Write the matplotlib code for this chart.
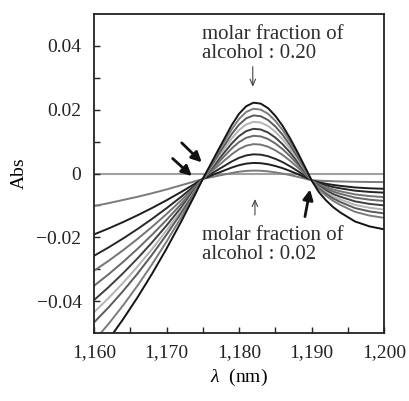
import matplotlib
matplotlib.use("Agg")
import matplotlib.pyplot as plt
from matplotlib.ticker import FixedLocator, FixedFormatter

plt.rcParams['font.family'] = ['Liberation Serif', 'DejaVu Serif']
plt.rcParams['mathtext.fontset'] = 'custom'
plt.rcParams['mathtext.rm'] = 'Liberation Serif'
plt.rcParams['mathtext.it'] = 'Liberation Serif:italic'

# wavelength grid (nm)
wavelength = [1160, 1162, 1164, 1166, 1168, 1170, 1172, 1174, 1175, 1176, 1177, 1178,
              1179, 1180, 1181, 1182, 1183, 1184, 1185, 1186, 1187, 1188, 1189, 1190,
              1191, 1192, 1193, 1194, 1196, 1198, 1200]

fractions = ["0.02", "0.04", "0.06", "0.08", "0.10", "0.12", "0.14", "0.16", "0.18", "0.20"]

abs_002 = [-0.0102, -0.0093, -0.0083, -0.0073, -0.0062, -0.0050, -0.0037, -0.0024, -0.0017,
           -0.00124, -0.00076, -0.0003, 0.00017, 0.00056, 0.00081, 0.00091, 0.00086, 0.00067,
           0.00036, -0.00002, -0.00048, -0.0010, -0.00154, -0.0021,
           -0.00224, -0.00235, -0.00243, -0.0025, -0.0026, -0.00266, -0.0027]
abs_004 = [-0.0191, -0.01724, -0.01524, -0.0131, -0.01082, -0.00839, -0.00582, -0.00311, -0.0017,
           -0.00082, 0.0001, 0.00098, 0.00186, 0.0026, 0.0031, 0.00331, 0.00323, 0.0029,
           0.00236, 0.00168, 0.00084, -0.0001, -0.00108, -0.0021,
           -0.00275, -0.00321, -0.00359, -0.00388, -0.00437, -0.00464, -0.0048]
abs_006 = [-0.0258, -0.02319, -0.02039, -0.01741, -0.01424, -0.01089, -0.00735, -0.00363, -0.0017,
           -0.00035, 0.00106, 0.00241, 0.00377, 0.0049, 0.00567, 0.00601, 0.0059, 0.00542,
           0.00461, 0.00358, 0.00232, 0.00091, -0.00057, -0.0021,
           -0.00304, -0.0037, -0.00425, -0.00467, -0.00538, -0.00577, -0.006]
abs_008 = [-0.0305, -0.0274, -0.02407, -0.02052, -0.01673, -0.01272, -0.00848, -0.00402, -0.0017,
           0.00021, 0.00219, 0.0041, 0.00603, 0.00763, 0.00872, 0.00921, 0.00906, 0.00839,
           0.00728, 0.00584, 0.00407, 0.00211, 0.00004, -0.0021,
           -0.00337, -0.00427, -0.00502, -0.0056, -0.00655, -0.00708, -0.0074]
abs_010 = [-0.0352, -0.03161, -0.02775, -0.02362, -0.01923, -0.01456, -0.00962, -0.00441, -0.0017,
           0.00067, 0.00311, 0.00548, 0.00786, 0.00984, 0.0112, 0.01181, 0.01163, 0.01082,
           0.00944, 0.00767, 0.0055, 0.00309, 0.00053, -0.0021,
           -0.00366, -0.00477, -0.00568, -0.00639, -0.00756, -0.00821, -0.0086]
abs_012 = [-0.0397, -0.03565, -0.03129, -0.02661, -0.02162, -0.01632, -0.01071, -0.00478, -0.0017,
           0.00105, 0.0039, 0.00665, 0.00942, 0.01172, 0.01329, 0.01401, 0.0138, 0.01286,
           0.01128, 0.00922, 0.00671, 0.00391, 0.00095, -0.0021,
           -0.0040, -0.00534, -0.00645, -0.00731, -0.00874, -0.00953, -0.0100]
abs_014 = [-0.0435, -0.03908, -0.03431, -0.02918, -0.0237, -0.01786, -0.01166, -0.00511, -0.0017,
           0.00144, 0.00468, 0.00781, 0.01097, 0.01359, 0.01539, 0.01621, 0.01597, 0.01491,
           0.01311, 0.01077, 0.00792, 0.00474, 0.00137, -0.0021,
           -0.00431, -0.00587, -0.00716, -0.00817, -0.00983, -0.01075, -0.0113]
abs_016 = [-0.0467, -0.04199, -0.03689, -0.03139, -0.02549, -0.01919, -0.01249, -0.0054, -0.0017,
           0.00179, 0.00539, 0.00887, 0.01238, 0.0153, 0.0173, 0.01821, 0.01795, 0.01677,
           0.01477, 0.01218, 0.00902, 0.00549, 0.00175, -0.0021,
           -0.0046, -0.00636, -0.00782, -0.00896, -0.01084, -0.01188, -0.0125]
abs_018 = [-0.0525, -0.04716, -0.04138, -0.03516, -0.02849, -0.02139, -0.01384, -0.00586, -0.0017,
           0.00216, 0.00613, 0.00999, 0.01386, 0.01708, 0.0193, 0.02031, 0.02002, 0.01873,
           0.01652, 0.01366, 0.01017, 0.00628, 0.00215, -0.0021,
           -0.00493, -0.00694, -0.00859, -0.00989, -0.01201, -0.01319, -0.0139]
abs_020 = [-0.058, -0.05211, -0.04572, -0.03884, -0.03146, -0.02358, -0.0152, -0.00632, -0.0017,
           0.0025, 0.0068, 0.0110, 0.0152, 0.0187, 0.0211, 0.0222, 0.0219, 0.0205,
           0.0181, 0.0150, 0.0112, 0.0070, 0.0025, -0.0021,
           -0.0058, -0.00841, -0.01057, -0.01226, -0.01504, -0.01658, -0.0175]

series = [abs_002, abs_004, abs_006, abs_008, abs_010, abs_012, abs_014, abs_016, abs_018, abs_020]
colors = ['#7a7a7a', '#1e1e1e', '#262626', '#747474', '#6a6a6a', '#3e3e3e',
          '#b4b4b4', '#5a5a5a', '#7c7c7c', '#141414']

x_ticks = [1160, 1170, 1180, 1190, 1200]
x_ticklabels = ["1,160", "1,170", "1,180", "1,190", "1,200"]
x_minor = [1165, 1175, 1185, 1195]
y_ticks = [-0.04, -0.02, 0.0, 0.02, 0.04]
y_ticklabels = ["\u22120.04", "\u22120.02", "0", "0.02", "0.04"]
y_minor = [-0.03, -0.01, 0.01, 0.03]

fig = plt.figure(figsize=(4.09, 4.01), dpi=100)
ax = fig.add_axes([94 / 409, 68 / 401, 290 / 409, 319 / 401])

ax.axhline(0, color='#a0a0a0', lw=1.5, zorder=1)
for ys, c in zip(series, colors):
    ax.plot(wavelength, ys, color=c, lw=1.4, zorder=2)

ax.set_xlim(1160, 1200)
ax.set_ylim(-0.05, 0.05)
ax.xaxis.set_major_locator(FixedLocator(x_ticks))
ax.xaxis.set_major_formatter(FixedFormatter(x_ticklabels))
ax.xaxis.set_minor_locator(FixedLocator(x_minor))
ax.yaxis.set_major_locator(FixedLocator(y_ticks))
ax.yaxis.set_major_formatter(FixedFormatter(y_ticklabels))
ax.yaxis.set_minor_locator(FixedLocator(y_minor))
ax.tick_params(which='both', direction='in', length=4, width=1.0, colors='#222222',
               top=False, right=False, labelsize=14, pad=8)
ax.tick_params(axis='y', pad=9)
for s in ax.spines.values():
    s.set_linewidth(1.3)
    s.set_color('#222222')

ax.set_xlabel("$\\lambda$  (nm)", fontsize=14, labelpad=4)
ax.set_ylabel("Abs", fontsize=14, labelpad=6)

ax.text(1174.85, 0.0466, "molar fraction of\nalcohol : 0.20", fontsize=15,
        va='top', ha='left', color='#2e2e2e', linespacing=1.0)
ax.text(1174.85, -0.0166, "molar fraction of\nalcohol : 0.02", fontsize=15,
        va='top', ha='left', color='#2e2e2e', linespacing=1.0)

thin = dict(arrowstyle='->,head_length=0.45,head_width=0.2', color='#444444', lw=0.8,
            shrinkA=0, shrinkB=0)
ax.annotate("", xy=(1181.9, 0.0272), xytext=(1181.9, 0.0335), arrowprops=thin)
ax.annotate("", xy=(1182.2, -0.0080), xytext=(1182.2, -0.0130), arrowprops=thin)

bold = dict(arrowstyle='-|>,head_length=0.6,head_width=0.3', color='#111111', lw=2.0,
            shrinkA=0, shrinkB=0)
ax.annotate("", xy=(1174.86, 0.0035), xytext=(1172.1, 0.0096), arrowprops=bold)
ax.annotate("", xy=(1173.5, -0.0008), xytext=(1170.85, 0.0047), arrowprops=bold)
ax.annotate("", xy=(1189.8, -0.0050), xytext=(1189.1, -0.0135), arrowprops=bold)

fig.savefig("out.png", dpi=100)
